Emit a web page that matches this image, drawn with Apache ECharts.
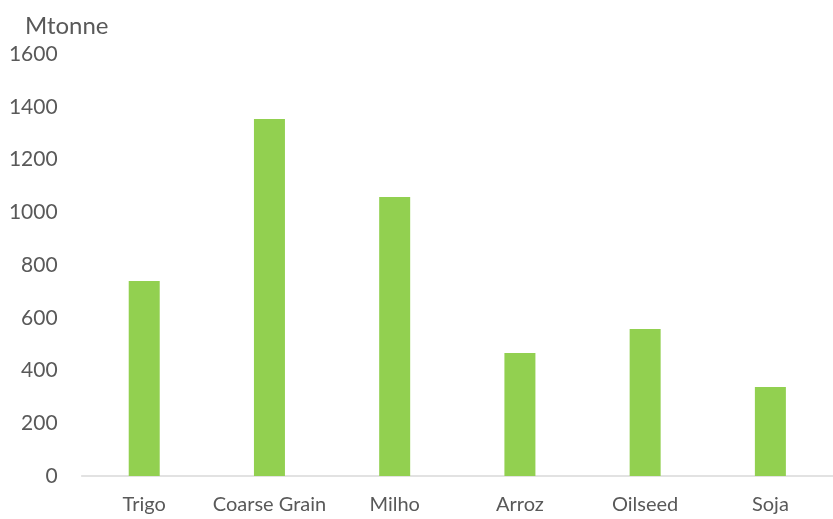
<!DOCTYPE html>
<html>
<head>
<meta charset="utf-8">
<script src="https://cdn.jsdelivr.net/npm/echarts@6/dist/echarts.min.js"></script>
<style>
  html, body { margin: 0; padding: 0; background: #ffffff; }
  #chart { width: 833px; height: 519px; }
</style>
</head>
<body>
<div id="chart"></div>
<script>
// Production by commodity (Mtonne)
const categories = ['Trigo', 'Coarse Grain', 'Milho', 'Arroz', 'Oilseed', 'Soja'];
const production = [739, 1354, 1058, 466, 557, 337];
const yTicks = { min: 0, max: 1600, interval: 200 };
const unitLabel = 'Mtonne';

const textColor = '#595959';
const fontFamily = 'Lato, "Open Sans", sans-serif';

const chart = echarts.init(document.getElementById('chart'), null, { renderer: 'canvas' });

chart.setOption({
  animation: false,
  backgroundColor: '#ffffff',
  title: {
    text: unitLabel,
    left: 20,
    top: 9,
    textStyle: { color: textColor, fontFamily: fontFamily, fontSize: 24, fontWeight: 'normal' }
  },
  grid: { left: 81.6, right: -10, top: 54, bottom: 43, containLabel: false },
  xAxis: {
    type: 'category',
    data: categories,
    axisLine: { show: true, lineStyle: { color: '#D9D9D9', width: 1.5 } },
    axisTick: { show: false },
    axisLabel: { color: textColor, fontFamily: fontFamily, fontSize: 20, margin: 19, interval: 0 },
    splitLine: { show: false }
  },
  yAxis: {
    type: 'value',
    min: yTicks.min,
    max: yTicks.max,
    interval: yTicks.interval,
    axisLine: { show: false },
    axisTick: { show: false },
    splitLine: { show: false },
    axisLabel: {
      color: textColor, fontFamily: fontFamily, fontSize: 21, margin: 24,
      formatter: (v) => String(v)
    }
  },
  series: [{
    type: 'bar',
    data: production,
    barWidth: 31,
    itemStyle: { color: '#92D050' }
  }]
});
</script>
</body>
</html>
